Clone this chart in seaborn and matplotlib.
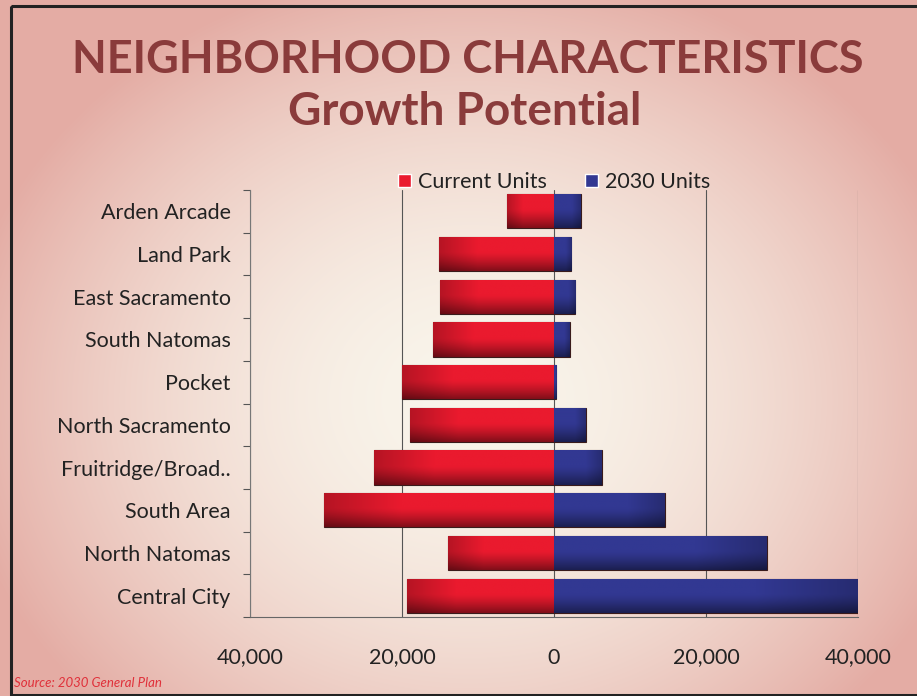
import numpy as np
import pandas as pd
import matplotlib
matplotlib.use("Agg")
import matplotlib.pyplot as plt
import seaborn as sns
from matplotlib.patches import Rectangle
from matplotlib.ticker import FixedLocator, FuncFormatter

# Housing units by neighborhood (Sacramento 2030 General Plan)
areas = ["Arden Arcade", "Land Park", "East Sacramento", "South Natomas", "Pocket",
         "North Sacramento", "Fruitridge/Broad..", "South Area", "North Natomas", "Central City"]
current_units = [6200, 15100, 15000, 15900, 20000, 18900, 23700, 30300, 13900, 19300]
units_2030 = [3500, 2300, 2800, 2100, 300, 4200, 6300, 14600, 28000, 40000]
series_names = ["Current Units", "2030 Units"]
x_ticks = [-40000, -20000, 0, 20000, 40000]

df = pd.concat([
    pd.DataFrame({"area": areas, "units": [-v for v in current_units], "series": series_names[0]}),
    pd.DataFrame({"area": areas, "units": units_2030, "series": series_names[1]}),
])

sns.set_theme(style="white")
plt.rcParams["font.family"] = ["Lato", "DejaVu Sans"]

W, H = 917, 696
fig = plt.figure(figsize=(W / 100, H / 100), dpi=100)

# Soft pink backdrop with a pale centre
bg = fig.add_axes([0, 0, 1, 1], zorder=-10)
yy, xx = np.mgrid[0:H, 0:W]
r = np.sqrt(((xx - 470) / 520.0) ** 2 + ((yy - 400) / 440.0) ** 2)
t = np.clip(r, 0, 1) ** 1.8
c_in = np.array([249, 245, 235]) / 255.0
c_out = np.array([228, 172, 164]) / 255.0
img = c_in[None, None, :] * (1 - t[..., None]) + c_out[None, None, :] * t[..., None]
bg.imshow(img, extent=[0, W, H, 0], aspect="auto", interpolation="bilinear")
bg.set_xlim(0, W)
bg.set_ylim(H, 0)
bg.axis("off")
bg.add_patch(Rectangle((11, 6), W + 20, 689, fill=False, edgecolor="#222222", lw=2.2))

ax = fig.add_axes([250 / W, 1 - 617 / H, (858 - 250) / W, (617 - 190) / H])
ax.set_facecolor("none")

red, blue = "#ea1a2e", "#323892"
sns.barplot(data=df, y="area", x="units", hue="series", dodge=False, orient="h",
            palette=[red, blue], saturation=1, width=0.8, ax=ax, zorder=3, legend=True)

# Shade each bar: bright upper half, darker lower edge and far end
v = np.linspace(0, 1, 64)[:, None]
u = np.linspace(0, 1, 64)[None, :]
for patch in ax.patches:
    w, h = patch.get_width(), patch.get_height()
    if w == 0 or h == 0:
        continue
    fc = np.array(patch.get_facecolor()[:3])
    x0, y0 = patch.get_x(), patch.get_y()
    vert = 1.0 - 0.45 * np.clip((v - 0.45) / 0.55, 0, 1) ** 1.3
    far = u if w < 0 else 1 - u  # 0 at the far end, 1 at the zero line
    horiz = 0.78 + 0.22 * np.clip(far * 3, 0, 1)
    shade = np.clip((vert * horiz)[..., None] * fc[None, None, :], 0, 1)
    im = ax.imshow(shade, extent=[min(x0, x0 + w), max(x0, x0 + w), y0 + h, y0],
                   aspect="auto", zorder=4, interpolation="bilinear")
    im.set_clip_path(patch)
    patch.set_edgecolor("#3a1b1b")
    patch.set_linewidth(0.8)

ax.set_xlim(-40000, 40000)
ax.set_ylim(len(areas) - 0.5, -0.5)
ax.xaxis.set_major_locator(FixedLocator(x_ticks))
ax.xaxis.set_major_formatter(FuncFormatter(lambda v, p: f"{abs(int(v)):,}"))
ax.grid(axis="x", color="#555555", lw=0.8, zorder=1)
ax.grid(axis="y", visible=False)
for s in ["top", "right"]:
    ax.spines[s].set_visible(False)
ax.spines["left"].set_color("#777777")
ax.spines["left"].set_linewidth(0.8)
ax.spines["bottom"].set_color("#666666")
ax.spines["bottom"].set_linewidth(0.8)

ax.set_yticks(np.arange(len(areas)))
ax.set_yticklabels(areas)
ax.yaxis.set_minor_locator(FixedLocator(np.arange(-0.5, len(areas), 1)))
ax.tick_params(axis="y", which="major", length=0, pad=14, labelsize=15.5, labelcolor="#222222")
ax.tick_params(axis="y", which="minor", left=True, length=5, width=0.8, color="#555555")
ax.tick_params(axis="x", length=0, pad=22, labelsize=15.5, labelcolor="#222222")
ax.set_xlabel("")
ax.set_ylabel("")

leg = ax.legend(loc="lower center", bbox_to_anchor=(0.5, 0.975), ncol=2, frameon=False,
                fontsize=15.5, handlelength=0.6, handleheight=0.6, handletextpad=0.3,
                columnspacing=1.8, borderaxespad=0.0)
for txt in leg.get_texts():
    txt.set_color("#222222")

title_kw = dict(ha="center", va="center", fontweight="bold", color="#8a3b3b")
fig.text(468 / W, 1 - 60 / H, "NEIGHBORHOOD CHARACTERISTICS", fontsize=32.5, **title_kw)
fig.text(465 / W, 1 - 112 / H, "Growth Potential", fontsize=33, **title_kw)
fig.text(14 / W, 1 - 683 / H, "Source: 2030 General Plan", fontsize=9.5, style="italic",
         color="#e0303a", ha="left", va="center")

fig.savefig("out.png", dpi=100)
